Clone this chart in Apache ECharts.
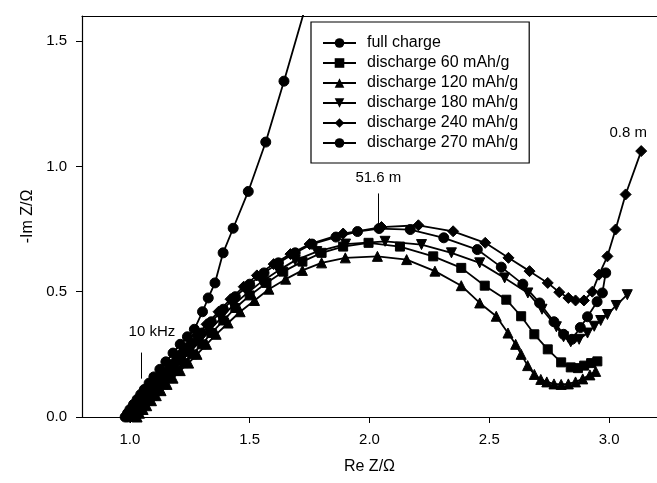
<!DOCTYPE html>
<html>
<head>
<meta charset="utf-8">
<script src="https://cdn.jsdelivr.net/npm/echarts@6/dist/echarts.min.js"></script>
<style>html,body{margin:0;padding:0;background:#fff}#c{width:657px;height:483px}</style>
</head>
<body>
<div id="c"></div>
<script>
// ---- data (Re Z, -Im Z) ----
const seriesNames = ['full charge','discharge 60 mAh/g','discharge 120 mAh/g','discharge 180 mAh/g','discharge 240 mAh/g','discharge 270 mAh/g'];
const xTicks = [1.0, 1.5, 2.0, 2.5, 3.0];
const yTicks = [0.0, 0.5, 1.0, 1.5];

const fullCharge = [[0.98,0.00],[0.99,0.015],[1.00,0.03],[1.015,0.05],[1.03,0.07],[1.045,0.09],[1.06,0.11],[1.08,0.135],[1.10,0.16],[1.125,0.19],[1.15,0.22],[1.18,0.255],[1.21,0.29],[1.24,0.32],[1.269,0.35],[1.303,0.42],[1.327,0.475],[1.355,0.535],[1.389,0.655],[1.431,0.753],[1.494,0.900],[1.567,1.097],[1.643,1.340],[1.74,1.66]];

const dis60 = [[1.02,0.00],[1.03,0.015],[1.045,0.03],[1.06,0.05],[1.075,0.065],[1.095,0.085],[1.115,0.105],[1.14,0.13],[1.165,0.155],[1.195,0.185],[1.225,0.215],[1.26,0.25],[1.30,0.29],[1.34,0.335],[1.39,0.385],[1.44,0.435],[1.50,0.485],[1.57,0.535],[1.64,0.58],[1.72,0.62],[1.80,0.655],[1.89,0.68],[1.996,0.695],[2.127,0.68],[2.266,0.641],[2.383,0.595],[2.481,0.524],[2.571,0.468],[2.633,0.402],[2.688,0.33],[2.744,0.27],[2.80,0.218],[2.84,0.198],[2.87,0.195],[2.896,0.205],[2.925,0.215],[2.951,0.222]];

const dis120 = [[1.03,0.00],[1.04,0.015],[1.055,0.03],[1.07,0.045],[1.09,0.065],[1.11,0.085],[1.13,0.105],[1.155,0.13],[1.18,0.155],[1.21,0.185],[1.245,0.215],[1.28,0.25],[1.32,0.29],[1.36,0.33],[1.41,0.375],[1.46,0.42],[1.52,0.465],[1.58,0.51],[1.65,0.55],[1.72,0.585],[1.80,0.615],[1.899,0.635],[2.033,0.641],[2.155,0.628],[2.273,0.582],[2.383,0.524],[2.46,0.455],[2.529,0.402],[2.578,0.335],[2.61,0.29],[2.633,0.25],[2.66,0.205],[2.688,0.17],[2.715,0.15],[2.74,0.14],[2.77,0.132],[2.80,0.13],[2.83,0.132],[2.86,0.14],[2.89,0.152],[2.92,0.168],[2.944,0.182]];

const dis180 = [[1.01,0.00],[1.02,0.015],[1.035,0.03],[1.05,0.05],[1.065,0.065],[1.085,0.085],[1.105,0.11],[1.13,0.135],[1.155,0.16],[1.185,0.19],[1.215,0.225],[1.25,0.26],[1.29,0.30],[1.33,0.345],[1.38,0.395],[1.43,0.445],[1.49,0.495],[1.55,0.54],[1.62,0.585],[1.69,0.625],[1.78,0.66],[1.90,0.69],[2.065,0.701],[2.217,0.688],[2.342,0.655],[2.46,0.615],[2.564,0.555],[2.661,0.495],[2.72,0.43],[2.78,0.36],[2.81,0.32],[2.84,0.30],[2.875,0.31],[2.91,0.335],[2.938,0.362],[2.965,0.385],[2.993,0.409],[3.03,0.445],[3.076,0.488]];

const dis240 = [[1.00,0.00],[1.01,0.02],[1.025,0.04],[1.04,0.06],[1.06,0.08],[1.08,0.105],[1.10,0.13],[1.125,0.155],[1.15,0.18],[1.18,0.215],[1.21,0.25],[1.245,0.285],[1.28,0.325],[1.32,0.37],[1.37,0.42],[1.42,0.47],[1.475,0.52],[1.53,0.565],[1.60,0.61],[1.67,0.65],[1.75,0.69],[1.89,0.732],[2.05,0.758],[2.204,0.765],[2.349,0.741],[2.483,0.695],[2.58,0.635],[2.668,0.582],[2.744,0.535],[2.792,0.498],[2.83,0.475],[2.86,0.465],[2.895,0.465],[2.93,0.50],[2.958,0.568],[2.993,0.641],[3.027,0.748],[3.069,0.888],[3.134,1.061]];

const dis270 = [[0.99,0.00],[1.00,0.015],[1.01,0.03],[1.02,0.045],[1.035,0.06],[1.05,0.075],[1.065,0.09],[1.08,0.11],[1.10,0.13],[1.12,0.15],[1.145,0.175],[1.17,0.20],[1.20,0.23],[1.23,0.26],[1.26,0.295],[1.30,0.335],[1.34,0.38],[1.39,0.43],[1.44,0.48],[1.50,0.53],[1.56,0.575],[1.62,0.615],[1.69,0.655],[1.76,0.69],[1.86,0.718],[1.95,0.74],[2.04,0.752],[2.17,0.748],[2.31,0.715],[2.45,0.668],[2.55,0.598],[2.64,0.53],[2.71,0.455],[2.77,0.38],[2.81,0.33],[2.845,0.31],[2.88,0.357],[2.91,0.40],[2.95,0.46],[2.972,0.495],[2.986,0.575]];

// annotations
const annoTexts = [
  {text:'10 kHz', at:[1.092,0.341]},
  {text:'51.6 m', at:[2.037,0.956]},
  {text:'0.8 m', at:[3.080,1.132]}
];
const annoLines = [
  [[1.049,0.153],[1.049,0.257]],
  [[2.037,0.768],[2.037,0.892]]
];

const dataList = [fullCharge, dis60, dis120, dis180, dis240, dis270];
const symbols = ['circle','rect','triangle','path://M0,0 L10,0 L5,9 Z','diamond','circle'];
const sizes = [10,9,10,10,11,10];
const FONT = 'Liberation Sans, Arial, Helvetica, sans-serif';

const chart = echarts.init(document.getElementById('c'), null, {renderer:'canvas'});

const series = dataList.map((d,i) => ({
  name: seriesNames[i],
  type: 'line',
  data: d,
  symbol: symbols[i],
  symbolSize: sizes[i],
  showAllSymbol: true,
  smooth: false,
  lineStyle: {color:'#000', width:1.8},
  itemStyle: {color:'#000', borderColor:'#000'},
  emphasis: {disabled:true},
  z: 3
}));

series[0].markLine = {
  silent: true, symbol: ['none','none'],
  lineStyle: {color:'#000', width:1, type:'solid'},
  label: {show:false},
  data: annoLines.map(l => [{coord:l[0]},{coord:l[1]}])
};
series[0].markPoint = {
  silent: true, symbol: 'circle', symbolSize: 0,
  data: annoTexts.map(a => ({
    coord: a.at,
    label: {show:true, position:'inside', formatter:a.text, color:'#000', fontSize:15, fontFamily:FONT}
  }))
};

chart.setOption({
  animation: false,
  backgroundColor: '#fff',
  grid: {left:82, top:16, width:578, height:401, show:false},
  legend: {
    left: 311, top: 22, orient: 'vertical',
    data: seriesNames,
    itemWidth: 33, itemHeight: 12, itemGap: 4,
    padding: [13, 11, 12, 11],
    borderColor: '#000', borderWidth: 1.2,
    backgroundColor: '#fff',
    textStyle: {color:'#000', fontSize:16, fontFamily:FONT, padding:[0,0,0,6]},
    selectedMode: false
  },
  xAxis: [{
    type: 'value', min: 0.8, max: 3.2,
    name: 'Re Z/\u03A9', nameLocation: 'middle', nameGap: 42,
    nameTextStyle: {color:'#000', fontSize:16, fontFamily:FONT},
    axisLine: {show:true, onZero:false, lineStyle:{color:'#000', width:1.2}},
    axisTick: {show:true, inside:false, length:6, customValues: xTicks, lineStyle:{color:'#000'}},
    axisLabel: {customValues: xTicks, formatter: v => Number(v).toFixed(1), color:'#000', fontSize:15, fontFamily:FONT, margin:15},
    splitLine: {show:false}
  },{
    type: 'value', min: 0.8, max: 3.2, position: 'top',
    axisLine: {show:true, onZero:false, lineStyle:{color:'#000', width:1.2}},
    axisTick: {show:false}, axisLabel: {show:false}, splitLine: {show:false}
  }],
  yAxis: {
    type: 'value', min: 0, max: 1.6,
    name: '-Im Z/\u03A9', nameLocation: 'middle', nameGap: 45, nameRotate: 90,
    nameTextStyle: {color:'#000', fontSize:16, fontFamily:FONT},
    axisLine: {show:true, onZero:false, lineStyle:{color:'#000', width:1.2}},
    axisTick: {show:true, inside:false, length:6, customValues: yTicks, lineStyle:{color:'#000'}},
    axisLabel: {customValues: yTicks, formatter: v => Number(v).toFixed(1), color:'#000', fontSize:15, fontFamily:FONT, margin:15},
    splitLine: {show:false}
  },
  series: series
});
</script>
</body>
</html>
